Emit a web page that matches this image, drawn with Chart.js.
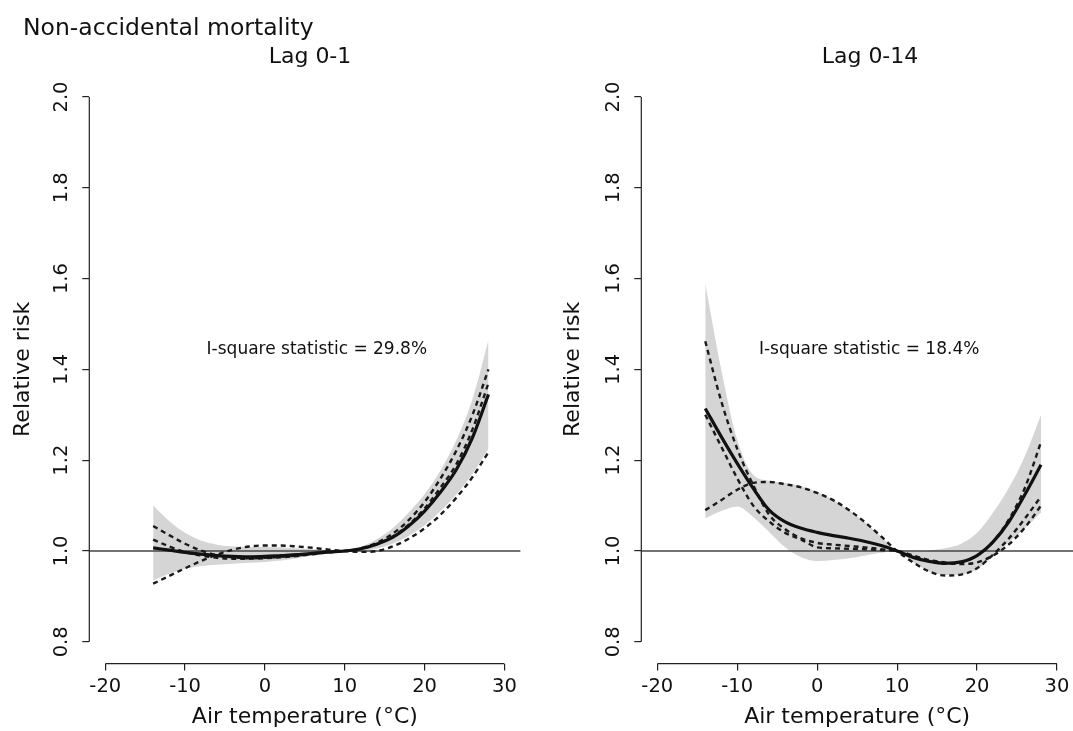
<!DOCTYPE html>
<html>
<head>
<meta charset="utf-8">
<script src="https://cdn.jsdelivr.net/npm/chart.js@4.4.0/dist/chart.umd.min.js"></script>
<style>
    body { margin: 0; width: 1073px; height: 731px; overflow: hidden; position: relative; background: #fff; color: #111; font-family: "DejaVu Sans", sans-serif; }
    canvas { position: absolute; top: 0; }
    .ttl { position: absolute; white-space: nowrap; line-height: 1; }
</style>
</head>
<body>
<canvas id="lag01" width="536" height="731" style="left:0"></canvas>
<canvas id="lag014" width="537" height="731" style="left:536px"></canvas>
<div class="ttl" style="left:23px;top:16px;font-size:23.5px">Non-accidental mortality</div>
<div class="ttl" style="left:310px;top:45px;font-size:22px;transform:translateX(-50%)">Lag 0-1</div>
<div class="ttl" style="left:870px;top:45px;font-size:22px;transform:translateX(-50%)">Lag 0-14</div>
<script>
const temps = [-14, -12, -10, -8, -6, -4, -2, 0, 2, 4, 6, 8, 10, 12, 14, 16, 18, 20, 22, 24, 26, 28]
const xTicks = [-20, -10, 0, 10, 20, 30]
const yTicks = [0.8, 1.0, 1.2, 1.4, 1.6, 1.8, 2.0]
const refRisk = 1

// Lag 0-1
const lag01Pooled = [1.007, 1.002, 0.997, 0.993, 0.990, 0.988, 0.987, 0.988, 0.990, 0.992, 0.995, 0.998, 1.000, 1.005, 1.015, 1.030, 1.055, 1.088, 1.130, 1.180, 1.250, 1.345]
const lag01Lower  = [0.935, 0.950, 0.961, 0.967, 0.970, 0.972, 0.974, 0.976, 0.979, 0.984, 0.990, 0.995, 1.000, 1.000, 1.005, 1.016, 1.033, 1.057, 1.088, 1.125, 1.170, 1.225]
const lag01Upper  = [1.100, 1.066, 1.040, 1.023, 1.014, 1.010, 1.009, 1.009, 1.008, 1.006, 1.004, 1.002, 1.000, 1.009, 1.026, 1.050, 1.085, 1.125, 1.178, 1.245, 1.335, 1.465]
const lag01StudyA = [1.055, 1.035, 1.016, 1.001, 0.991, 0.986, 0.984, 0.985, 0.987, 0.990, 0.994, 0.997, 1.000, 1.006, 1.018, 1.038, 1.068, 1.108, 1.160, 1.222, 1.300, 1.400]
const lag01StudyB = [1.025, 1.010, 0.998, 0.990, 0.985, 0.983, 0.983, 0.984, 0.986, 0.989, 0.993, 0.997, 1.000, 1.005, 1.015, 1.032, 1.058, 1.094, 1.140, 1.192, 1.268, 1.370]
const lag01StudyC = [0.928, 0.945, 0.962, 0.978, 0.992, 1.003, 1.010, 1.012, 1.012, 1.010, 1.007, 1.003, 1.000, 0.998, 1.000, 1.010, 1.027, 1.050, 1.080, 1.118, 1.163, 1.218]
const lag01Isq = 'I-square statistic = 29.8%'

// Lag 0-14
const lag014Pooled = [1.314, 1.252, 1.193, 1.138, 1.090, 1.064, 1.050, 1.041, 1.034, 1.028, 1.021, 1.012, 1.000, 0.986, 0.977, 0.973, 0.976, 0.990, 1.020, 1.065, 1.125, 1.190]
const lag014Lower  = [1.072, 1.088, 1.098, 1.075, 1.042, 1.008, 0.986, 0.978, 0.980, 0.984, 0.990, 0.996, 1.000, 0.975, 0.955, 0.947, 0.948, 0.960, 0.988, 1.020, 1.050, 1.085]
const lag014Upper  = [1.590, 1.400, 1.245, 1.168, 1.155, 1.150, 1.142, 1.130, 1.113, 1.090, 1.063, 1.032, 1.000, 0.999, 1.001, 1.006, 1.016, 1.040, 1.085, 1.140, 1.210, 1.300]
const lag014StudyA = [1.462, 1.330, 1.225, 1.145, 1.080, 1.048, 1.028, 1.018, 1.014, 1.011, 1.008, 1.004, 1.000, 0.989, 0.978, 0.972, 0.975, 0.990, 1.020, 1.070, 1.140, 1.240]
const lag014StudyB = [1.090, 1.112, 1.135, 1.150, 1.152, 1.147, 1.140, 1.128, 1.112, 1.090, 1.063, 1.032, 1.000, 0.975, 0.955, 0.946, 0.948, 0.962, 0.992, 1.028, 1.072, 1.120]
const lag014StudyC = [1.300, 1.230, 1.160, 1.100, 1.065, 1.040, 1.025, 1.008, 1.006, 1.005, 1.004, 1.002, 1.000, 0.990, 0.980, 0.975, 0.971, 0.975, 0.990, 1.015, 1.052, 1.100]
const lag014Isq = 'I-square statistic = 18.4%'

const FONT = 'DejaVu Sans'
const pts = arr => arr.map((v, i) => ({ x: temps[i], y: v }))

// reference line, partial axis lines (R style) and the I-square note
const rStyle = {
    id: 'rStyle',
    afterDatasetDraw(chart, args) {
        if (args.index !== 0) return
        const { ctx, chartArea, scales: { y } } = chart
        const py = y.getPixelForValue(refRisk)
        ctx.save()
        ctx.strokeStyle = '#444'
        ctx.lineWidth = 1.3
        ctx.beginPath()
        ctx.moveTo(chartArea.left, py)
        ctx.lineTo(chartArea.right, py)
        ctx.stroke()
        ctx.restore()
    },
    afterDraw(chart, args, opts) {
        const { ctx, scales: { x, y } } = chart
        ctx.save()
        ctx.strokeStyle = '#222'
        ctx.lineWidth = 1.2
        ctx.beginPath()
        ctx.moveTo(x.getPixelForValue(xTicks[0]), x.top)
        ctx.lineTo(x.getPixelForValue(xTicks[xTicks.length - 1]), x.top)
        ctx.moveTo(y.right, y.getPixelForValue(yTicks[0]))
        ctx.lineTo(y.right, y.getPixelForValue(yTicks[yTicks.length - 1]))
        ctx.stroke()
        ctx.font = '17px "' + FONT + '"'
        ctx.fillStyle = '#111'
        ctx.textAlign = 'center'
        ctx.textBaseline = 'middle'
        ctx.fillText(opts.text, x.getPixelForValue(opts.x), y.getPixelForValue(opts.y))
        ctx.restore()
    }
}

const makePanel = (id, pooled, lower, upper, studies, note, yWidth, titlePad, padRight) => {
    const dashed = studies.map(s => ({
        data: pts(s), borderColor: '#1a1a1a', borderWidth: 2.4, borderDash: [5, 4], order: 2
    }))
    new Chart(document.getElementById(id), {
        type: 'line',
        data: {
            datasets: [
                { data: pts(lower), borderWidth: 0, fill: false, order: 5 },
                { data: pts(upper), borderWidth: 0, fill: '-1', backgroundColor: '#d5d5d5', order: 5 },
                ...dashed,
                { data: pts(pooled), borderColor: '#111', borderWidth: 3.2, order: 1 }
            ]
        },
        options: {
            responsive: false,
            animation: false,
            layout: { padding: { top: 75.2, left: 0, right: padRight, bottom: 0 } },
            elements: { point: { radius: 0 }, line: { cubicInterpolationMode: 'monotone' } },
            plugins: {
                legend: { display: false },
                tooltip: { enabled: false },
                rStyle: { text: note, x: 6.5, y: 1.443 }
            },
            scales: {
                x: {
                    type: 'linear', min: -22, max: 32,
                    afterBuildTicks: s => { s.ticks = xTicks.map(v => ({ value: v })) },
                    afterFit: s => { s.height = 67.4; s.paddingLeft = 0; s.paddingRight = 0 },
                    grid: { drawOnChartArea: false, tickLength: 7, color: '#222', lineWidth: 1.2 },
                    border: { display: false },
                    ticks: { color: '#111', padding: 5, maxRotation: 0, autoSkip: false, font: { family: FONT, size: 19.5 } },
                    title: { display: true, text: 'Air temperature (°C)', color: '#111', padding: { top: 0, bottom: 1 }, font: { family: FONT, size: 22 } }
                },
                y: {
                    type: 'linear', min: 0.752, max: 2.048,
                    afterBuildTicks: s => { s.ticks = yTicks.map(v => ({ value: v })) },
                    afterFit: s => { s.width = yWidth },
                    grid: { drawOnChartArea: false, tickLength: 7, color: '#222', lineWidth: 1.2 },
                    border: { display: false },
                    ticks: {
                        color: '#111', padding: 5, minRotation: 90, maxRotation: 90, crossAlign: 'center',
                        font: { family: FONT, size: 19.5 }, callback: v => v.toFixed(1)
                    },
                    title: { display: true, text: 'Relative risk', color: '#111', padding: { top: titlePad, bottom: 0 }, font: { family: FONT, size: 22 } }
                }
            }
        },
        plugins: [rStyle]
    })
}

makePanel('lag01', lag01Pooled, lag01Lower, lag01Upper, [lag01StudyA, lag01StudyB, lag01StudyC], lag01Isq, 89.3, 10, 15.6)
makePanel('lag014', lag014Pooled, lag014Lower, lag014Upper, [lag014StudyA, lag014StudyB, lag014StudyC], lag014Isq, 105.3, 24, 0)
</script>
</body>
</html>
